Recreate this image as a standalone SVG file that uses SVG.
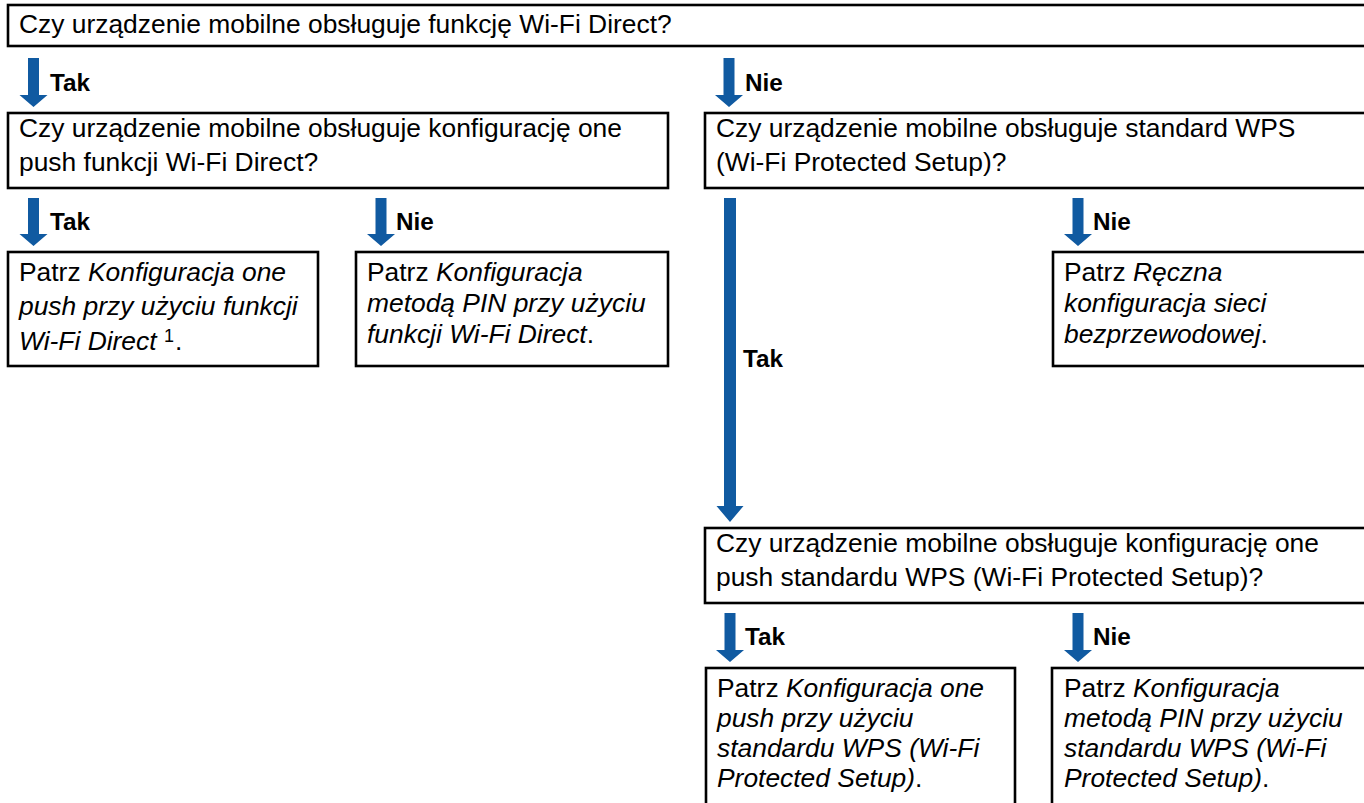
<svg xmlns="http://www.w3.org/2000/svg" width="1364" height="803" viewBox="0 0 1364 803">
<style>
.box{fill:#fff;stroke:#000;stroke-width:2.6}
.t{font-family:"Liberation Sans",Arial,sans-serif;font-size:26.4px;fill:#000}
.i{font-style:italic}
.lbl{font-family:"Liberation Sans",Arial,sans-serif;font-size:24.3px;font-weight:bold;fill:#000}
.arr{fill:#105AA1}
</style>
<rect width="1364" height="803" fill="#fff"/>
<g id="connectors">
<polygon class="arr" points="28,58 39,58 39,95 47.5,95 33.5,107 19.5,95 28,95"/>
<polygon class="arr" points="723.5,58 734.5,58 734.5,95 743,95 729,107 715,95 723.5,95"/>
<polygon class="arr" points="28,198 39,198 39,234 47.5,234 33.5,246 19.5,234 28,234"/>
<polygon class="arr" points="375.5,198 386.5,198 386.5,234 395,234 381,246 367,234 375.5,234"/>
<polygon class="arr" points="724,198 736,198 736,506 743.5,506 730,522 716.5,506 724,506"/>
<polygon class="arr" points="1072.5,198 1083.5,198 1083.5,234 1092,234 1078,246 1064,234 1072.5,234"/>
<polygon class="arr" points="724.5,613 735.5,613 735.5,650 744,650 730,662 716,650 724.5,650"/>
<polygon class="arr" points="1072.5,613 1083.5,613 1083.5,650 1092,650 1078,662 1064,650 1072.5,650"/>
<text class="lbl" x="50" y="91">Tak</text>
<text class="lbl" x="745" y="91">Nie</text>
<text class="lbl" x="50" y="230">Tak</text>
<text class="lbl" x="396" y="230">Nie</text>
<text class="lbl" x="743" y="367">Tak</text>
<text class="lbl" x="1093" y="230">Nie</text>
<text class="lbl" x="745" y="645">Tak</text>
<text class="lbl" x="1093" y="645">Nie</text>
</g>
<g id="q1">
<rect class="box" x="8" y="5" width="1370" height="41"/>
<text class="t" x="19" y="33">Czy urządzenie mobilne obsługuje funkcję Wi-Fi Direct?</text>
</g>
<g id="q2">
<rect class="box" x="8" y="113" width="660" height="75"/>
<text class="t" x="19" y="137">Czy urządzenie mobilne obsługuje konfigurację one</text>
<text class="t" x="19" y="171">push funkcji Wi-Fi Direct?</text>
</g>
<g id="q3">
<rect class="box" x="705" y="113" width="680" height="75"/>
<text class="t" x="716" y="137">Czy urządzenie mobilne obsługuje standard WPS</text>
<text class="t" x="716" y="171">(Wi-Fi Protected Setup)?</text>
</g>
<g id="r1">
<rect class="box" x="8" y="252" width="310" height="114"/>
<text class="t" x="19" y="281">Patrz <tspan class="i">Konfiguracja one</tspan></text>
<text class="t i" x="19" y="315">push przy użyciu funkcji</text>
<text class="t" x="19" y="350"><tspan class="i">Wi-Fi Direct</tspan><tspan x="164" y="341.5" font-size="18">1</tspan><tspan x="175" y="350">.</tspan></text>
</g>
<g id="r2">
<rect class="box" x="356" y="252" width="312" height="114"/>
<text class="t" x="367" y="281">Patrz <tspan class="i">Konfiguracja</tspan></text>
<text class="t i" x="367" y="312">metodą PIN przy użyciu</text>
<text class="t" x="367" y="343"><tspan class="i">funkcji Wi-Fi Direct</tspan>.</text>
</g>
<g id="r3">
<rect class="box" x="1053" y="252" width="330" height="114"/>
<text class="t" x="1064" y="281">Patrz <tspan class="i">Ręczna</tspan></text>
<text class="t i" x="1064" y="312">konfiguracja sieci</text>
<text class="t" x="1064" y="343"><tspan class="i">bezprzewodowej</tspan>.</text>
</g>
<g id="q4">
<rect class="box" x="705" y="528" width="680" height="75"/>
<text class="t" x="716" y="552">Czy urządzenie mobilne obsługuje konfigurację one</text>
<text class="t" x="716" y="586">push standardu WPS (Wi-Fi Protected Setup)?</text>
</g>
<g id="r4">
<rect class="box" x="706" y="668" width="309" height="160"/>
<text class="t" x="717" y="697">Patrz <tspan class="i">Konfiguracja one</tspan></text>
<text class="t i" x="717" y="727">push przy użyciu</text>
<text class="t i" x="717" y="757">standardu WPS (Wi-Fi</text>
<text class="t" x="717" y="787"><tspan class="i">Protected Setup)</tspan>.</text>
</g>
<g id="r5">
<rect class="box" x="1052" y="668" width="330" height="160"/>
<text class="t" x="1064" y="697">Patrz <tspan class="i">Konfiguracja</tspan></text>
<text class="t i" x="1064" y="727">metodą PIN przy użyciu</text>
<text class="t i" x="1064" y="757">standardu WPS (Wi-Fi</text>
<text class="t" x="1064" y="787"><tspan class="i">Protected Setup)</tspan>.</text>
</g>
</svg>
